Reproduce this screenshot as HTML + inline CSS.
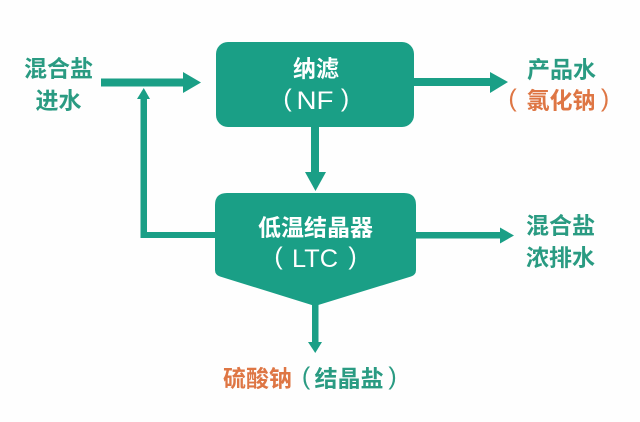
<!DOCTYPE html>
<html>
<head>
<meta charset="utf-8">
<style>
  html,body{margin:0;padding:0;background:#fefefe;}
  svg{display:block;}
  .cjk{font-family:"Liberation Sans","Noto Sans CJK SC",sans-serif;font-size:23px;font-weight:bold;}
  .lat{font-family:"Liberation Sans",sans-serif;font-size:25px;}
  .par{font-family:"Liberation Sans",sans-serif;font-size:25px;}
</style>
</head>
<body>
<svg width="640" height="422" viewBox="0 0 640 422" xmlns="http://www.w3.org/2000/svg">
  <rect x="0" y="0" width="640" height="422" fill="#fefefe"/>
  <g fill="#1a9f86">
    <!-- NF box -->
    <rect x="216" y="42" width="198" height="85" rx="12" ry="12"/>
    <!-- NF -> LTC -->
    <rect x="311" y="126" width="8" height="47"/>
    <polygon points="305,172 326,172 315.5,191"/>
    <!-- input arrow -->
    <rect x="101" y="78.5" width="83" height="8"/>
    <polygon points="183,72 183,93 201,82.5"/>
    <!-- NF output arrow -->
    <rect x="413" y="78" width="78" height="8"/>
    <polygon points="490,72 490,93 508,82"/>
    <!-- feedback loop -->
    <rect x="140.5" y="97" width="6.5" height="141"/>
    <rect x="140.5" y="232" width="77" height="6"/>
    <polygon points="137,99 150,99 143.75,88"/>
    <!-- LTC box -->
    <path d="M215,205 Q215,193 227,193 L404,193 Q416,193 416,205 L416,270 Q416,275 411,276.5 L315,306 L220,276.5 Q215,275 215,270 Z"/>
    <!-- LTC right arrow -->
    <rect x="415" y="232" width="86" height="6.5"/>
    <polygon points="500,227.5 500,243.5 514,235.5"/>
    <!-- down arrow -->
    <rect x="312" y="300" width="6.5" height="45"/>
    <polygon points="308,342 322,342 315.25,353"/>
  </g>

  <!-- left input text -->
  <g class="cjk" fill="#2a9b82" text-anchor="middle">
    <text x="58.5" y="76.7">混合盐</text>
    <text x="58.5" y="108.7">进水</text>
    <text x="561.5" y="77.7">产品水</text>
    <text x="560.5" y="233.7">混合盐</text>
    <text x="560.5" y="265.7">浓排水</text>
    <text x="349" y="386.7">结晶盐</text>
  </g>
  <g class="par" fill="#2a9b82" text-anchor="middle">
    <text x="306" y="384.5">(</text>
    <text x="392.5" y="384.5">)</text>
  </g>

  <!-- orange -->
  <g class="cjk" fill="#de7644" text-anchor="middle">
    <text x="561" y="108.7">氯化钠</text>
    <text x="257.5" y="386.7">硫酸钠</text>
  </g>
  <g class="par" fill="#de7644" text-anchor="middle">
    <text x="512.5" y="106.5">(</text>
    <text x="605" y="106.5">)</text>
  </g>

  <!-- box text white -->
  <g fill="#ffffff">
    <text class="cjk" x="316" y="76.7" text-anchor="middle">纳滤</text>
    <text class="par" x="287.5" y="106.5" text-anchor="middle">(</text>
    <text class="lat" x="296.5" y="109" textLength="37" lengthAdjust="spacingAndGlyphs">NF</text>
    <text class="par" x="345" y="106.5" text-anchor="middle">)</text>

    <text class="cjk" x="315.5" y="235.7" text-anchor="middle">低温结晶器</text>
    <text class="par" x="278.5" y="264.5" text-anchor="middle">(</text>
    <text class="lat" x="292" y="267" textLength="46" lengthAdjust="spacingAndGlyphs">LTC</text>
    <text class="par" x="352.5" y="264.5" text-anchor="middle">)</text>
  </g>
</svg>
</body>
</html>
